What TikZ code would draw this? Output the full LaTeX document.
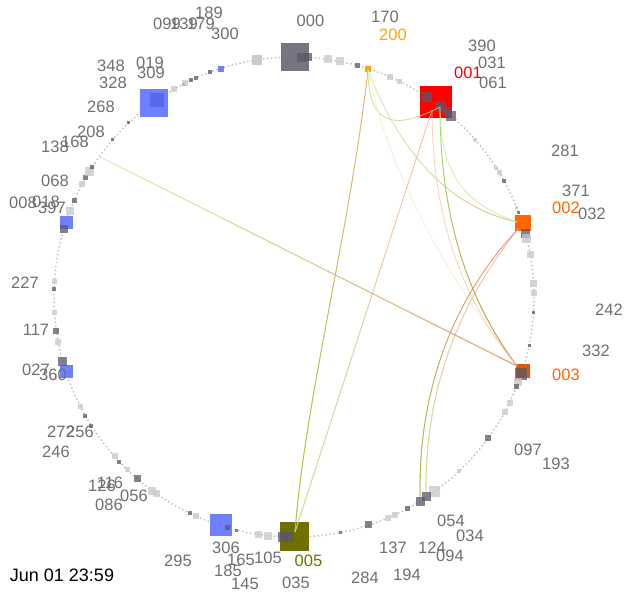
\documentclass[tikz,border=0pt]{standalone}
\usepackage{fontspec}
\setmainfont{Liberation Sans}
\usepackage{tikz}
\usetikzlibrary{calc}
\usetikzlibrary{fadings}

\definecolor{lblgrey}{RGB}{112,112,112}
\definecolor{ringgrey}{RGB}{190,190,190}
\definecolor{hostgrey}{RGB}{118,116,128}
\definecolor{hostred}{RGB}{255,0,0}
\definecolor{hostorange}{RGB}{255,102,0}
\definecolor{hostburnt}{RGB}{222,88,0}
\definecolor{hostamber}{RGB}{255,165,0}
\definecolor{hostolive}{RGB}{112,112,0}
\definecolor{hostblue}{RGB}{110,128,255}
\definecolor{hostdeepblue}{RGB}{88,106,236}
\definecolor{lb}{RGB}{200,200,200}
\definecolor{db}{RGB}{88,88,106}
\definecolor{flowamber}{RGB}{232,150,70}
\definecolor{flowgreen}{RGB}{120,225,50}
\definecolor{flowpale}{RGB}{190,240,150}
\definecolor{flowpink}{RGB}{250,170,150}
\definecolor{flowred}{RGB}{242,115,80}
\definecolor{flowyellow}{RGB}{212,212,120}
\definecolor{flowfaint}{RGB}{240,238,212}
\definecolor{flowpeach}{RGB}{247,200,165}

\tikzset{
	host/.style={rectangle, inner sep=0pt, minimum size=#1},
	blip/.style={rectangle, inner sep=0pt, minimum size=#1, fill opacity=0.75},
	lbl/.style={inner sep=0pt, text=lblgrey, font=\fontsize{16.5}{18}\selectfont},
	flow/.style={line width=0.85pt, draw opacity=0.8},
}

\begin{document}
\begin{tikzpicture}[x=1pt, y=-1pt]
		\useasboundingbox (0,0) rectangle (637,592);
		\fill[white] (0,0) rectangle (637,592);
		
		\coordinate (C) at (294,297);
		\draw[ringgrey, line width=1.4pt, dash pattern=on 1.4pt off 2.6pt] (C) circle (240);
		
		% hosts on the ring
		\node (n000) [host=28, fill=hostgrey] at (295,57) {};
		\node (n200) [host=6, fill=hostamber] at (368,69) {};
		\node (n001) [host=32, fill=hostred] at (436,102) {};
		\node (n002) [host=16, fill=hostorange] at (523,223) {};
		\node (n003) [host=14, fill=hostburnt] at (523,371) {};
		\node (n005) [host=29, fill=hostolive] at (294.5,536.5) {};
		\node (n306) [host=22, fill=hostblue] at (221,525) {};
		\node (n360) [host=13, fill=hostblue] at (66,371) {};
		\node (n397) [host=13, fill=hostblue] at (66,222) {};
		\node (n309) [host=28, fill=hostblue] at (154,103) {};
		\node (n309in) [host=14, fill=hostdeepblue] at (157,100) {};
		\node (n252) [host=6, fill=hostblue] at (221,69) {};
		
		% activity along the ring
		\foreach \a/\s/\c in {-98.8/10/lb, -81.9/8/lb, -79/8/lb, -74.6/5/db, -66.5/6/lb, -64/5/lb,
			-88.1/9/db, -86.7/8/db, -56.3/10/db, -52.5/11/db, -50.5/8/db, -49/10/db,
			-41/4/lb, -32.5/4/lb, -31.3/5/lb, -28.8/4/db, -22/3/lb, -20.7/3/db, -15.4/9/db, -14/9/lb,
			-10.1/7/lb, -3.3/7/lb, -1/6/lb, 3.6/3/db, 11.7/3/db, 18.8/12/db, 20.8/8/lb, 22/5/db,
			26.1/6/lb, 28.6/6/lb, 35.9/6/db, 46.5/4/lb, 54.1/11/lb, 56.4/9/db, 58.3/9/db,
			61.9/5/db, 65.1/6/lb, 66.9/6/lb, 71.8/7/db, 78.9/3/db, 91.3/10/db, 92.6/10/db,
			96.2/8/lb, 98.5/7/lb, 103.8/3/db, 106/5/db, 114/6/lb, 115.7/4/db,
			125/7/lb, 126.2/8/lb, 130.8/7/db, 134/5/lb, 136.7/4/db, 138.4/6/lb,
			147.6/4/db, 150.4/4/db, 152.9/5/lb, 164.3/9/db, 169.2/6/lb, 171.8/6/db, 176.4/5/lb,
			181.9/4/db, 183.6/5/lb, 196.5/8/db, 201/8/lb, 203.7/5/db, 208.2/6/lb, 209.8/5/db,
			211.5/9/lb, 212.7/4/db, 221/3/db, 226.5/3/db, 240/6/lb, 242.5/3/db, 243/6/lb,
			244.5/4/db, 246/4/db, 249.5/4/db, 261.2/10/lb}
			\node[blip=\s, fill=\c] at ($(C)+(\a:240)$) {};
		
		% ends of the flows
		\coordinate (p200) at (368,70);
		\coordinate (p001) at (440,107);
		\coordinate (q001) at (432,110);
		\coordinate (p002) at (517,222);
		\coordinate (q002) at (519,228);
		\coordinate (p003) at (517,366);
		\coordinate (p005) at (295,532);
		\coordinate (p124) at (420,497);
		\coordinate (q124) at (426,492);
		\coordinate (p208) at (100,157);
		
		% flows
		\draw[flow, draw=flowamber, postaction={draw=flowgreen, path fading=north}] (p200) .. controls (350,230) and (305,400) .. (p005);
		\draw[flow, draw=flowyellow] (p200) .. controls (368,135) and (405,125) .. (p001);
		\draw[flow, draw=flowpale, postaction={draw=flowpink, path fading=west}] (p200) .. controls (395,140) and (440,205) .. (p002);
		\draw[flow, draw=flowfaint] (p200) .. controls (385,160) and (440,270) .. (p003);
		\draw[flow, draw=flowpink, postaction={draw=flowpale, path fading=north}] (q001) -- (p005);
		\draw[flow, draw=flowgreen, postaction={draw=flowred, path fading=north}] (p001) .. controls (440,230) and (475,310) .. (p003);
		\draw[flow, draw=flowpeach] (q001) .. controls (432,230) and (470,310) .. (p003);
		\draw[flow, draw=flowpale] (p001) .. controls (440,180) and (470,205) .. (p002);
		\draw[flow, draw=flowred, postaction={draw=flowgreen, path fading=north}] (q002) .. controls (460,290) and (418,380) .. (p124);
		\draw[flow, draw=flowpink, postaction={draw=flowpale, path fading=north}] (q002) .. controls (465,295) and (425,380) .. (q124);
		\draw[flow, draw=flowpale, postaction={draw=flowred, path fading=west}] (p208) -- (p003);
		
		% labels
		\node (l189) [lbl] at (209,13) {189};
		\node (l099) [lbl] at (167,24) {099};
		\node (l139) [lbl] at (184,24) {139};
		\node (l179) [lbl] at (201,24) {179};
		\node (l300) [lbl] at (225,34) {300};
		\node (l000) [lbl] at (310.5,20.5) {000};
		\node (l170) [lbl] at (385,17) {170};
		\node (l390) [lbl] at (482,46) {390};
		\node (l031) [lbl] at (492,63) {031};
		\node (l061) [lbl] at (493,83) {061};
		\node (l348) [lbl] at (111,66) {348};
		\node (l019) [lbl] at (150,63) {019};
		\node (l328) [lbl] at (113,83) {328};
		\node (l309) [lbl] at (151,73) {309};
		\node (l268) [lbl] at (101,107) {268};
		\node (l208) [lbl] at (91,132) {208};
		\node (l168) [lbl] at (75,142) {168};
		\node (l138) [lbl] at (55,147) {138};
		\node (l068) [lbl] at (55,181) {068};
		\node (l008) [lbl] at (23,203) {008};
		\node (l018) [lbl] at (46,202) {018};
		\node (l397) [lbl] at (52,208) {397};
		\node (l227) [lbl] at (25,283) {227};
		\node (l117) [lbl] at (36,330) {117};
		\node (l027) [lbl] at (36,370) {027};
		\node (l360) [lbl] at (53,375) {360};
		\node (l272) [lbl] at (61,432) {272};
		\node (l256) [lbl] at (80,432) {256};
		\node (l246) [lbl] at (56,452) {246};
		\node (l126) [lbl] at (102,486) {126};
		\node (l116) [lbl] at (110,483) {116};
		\node (l086) [lbl] at (109,505) {086};
		\node (l056) [lbl] at (134,496) {056};
		\node (l306) [lbl] at (226,548) {306};
		\node (l295) [lbl] at (178,561) {295};
		\node (l165) [lbl] at (241,560) {165};
		\node (l105) [lbl] at (268,558) {105};
		\node (l185) [lbl] at (228,571) {185};
		\node (l145) [lbl] at (245,584) {145};
		\node (l035) [lbl] at (296,583) {035};
		\node (l284) [lbl] at (365,578) {284};
		\node (l194) [lbl] at (407,575) {194};
		\node (l137) [lbl] at (393,548) {137};
		\node (l124) [lbl] at (432,548) {124};
		\node (l094) [lbl] at (450,556) {094};
		\node (l054) [lbl] at (451,521) {054};
		\node (l034) [lbl] at (470,536) {034};
		\node (l097) [lbl] at (528,450) {097};
		\node (l193) [lbl] at (556,464) {193};
		\node (l242) [lbl] at (609,310) {242};
		\node (l332) [lbl] at (596,351) {332};
		\node (l281) [lbl] at (565,151) {281};
		\node (l371) [lbl] at (576,191) {371};
		\node (l032) [lbl] at (592,214) {032};
		\node (l200) [lbl, text=hostamber] at (393,35) {200};
		\node (l001) [lbl, text=hostred] at (468,73) {001};
		\node (l002) [lbl, text=hostorange] at (566,208) {002};
		\node (l003) [lbl, text=hostorange] at (566,375) {003};
		\node (l005) [lbl, text=hostolive] at (308.5,560.5) {005};
		
		\node (clock) [inner sep=0pt, font=\fontsize{18}{20}\selectfont] at (62,575) {Jun 01 23:59};
		
		\end{tikzpicture}
\end{document}
